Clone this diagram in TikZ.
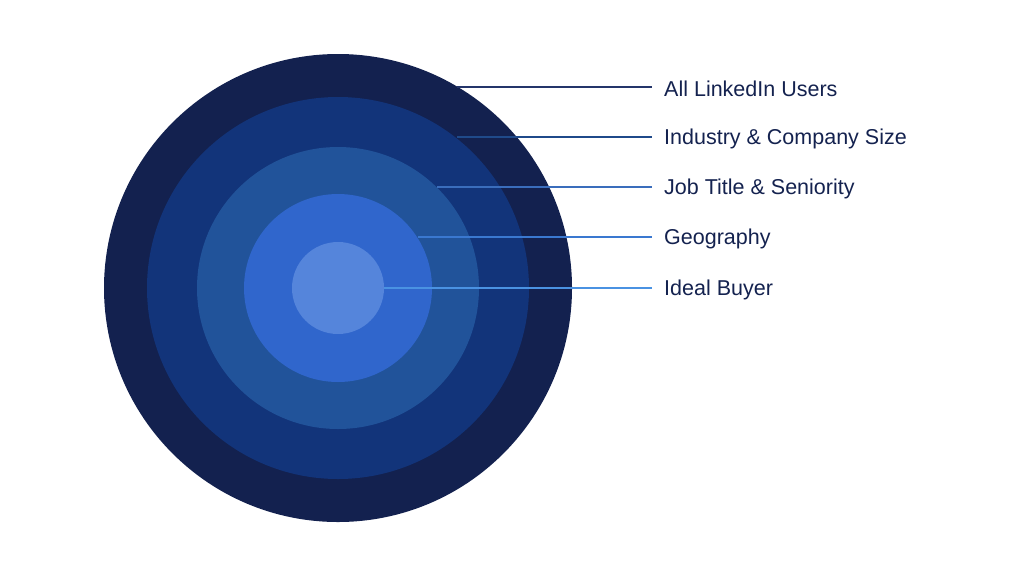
\documentclass[tikz,border=0pt]{standalone}
\usepackage{fontspec}
\setmainfont{Liberation Sans}
\definecolor{cA}{HTML}{13214F}
\definecolor{cB}{HTML}{12347A}
\definecolor{cC}{HTML}{21539A}
\definecolor{cD}{HTML}{3066CC}
\definecolor{cE}{HTML}{5585DB}
\definecolor{lA}{HTML}{24356A}
\definecolor{lB}{HTML}{1F4A8A}
\definecolor{lC}{HTML}{3A6DBC}
\definecolor{lD}{HTML}{3A78D0}
\definecolor{lE}{HTML}{4A92E2}
\definecolor{txt}{HTML}{14224F}
\begin{document}
\begin{tikzpicture}[x=1pt,y=-1pt,
  lab/.style={anchor=west,text=txt,font=\fontsize{21.5}{24}\selectfont,inner sep=0pt},
  lead/.style={line width=1.6pt}]
\useasboundingbox (0,0) rectangle (1024,576);
\fill[cA] (338,288) circle (234);
\fill[cB] (338,288) circle (191);
\fill[cC] (338,288) circle (141);
\fill[cD] (338,288) circle (94);
\fill[cE] (338,288) circle (46);
\coordinate (s1) at (457,87);
\coordinate (s2) at (457,137);
\coordinate (s3) at (437,187);
\coordinate (s4) at (418,237);
\coordinate (s5) at (384,288);
\coordinate (e1) at (652,87);
\coordinate (e2) at (652,137);
\coordinate (e3) at (652,187);
\coordinate (e4) at (652,237);
\coordinate (e5) at (652,288);
\node[lab] (t1) at (664,88.5) {All LinkedIn Users};
\node[lab] (t2) at (664,138.5) {Industry \& Company Size};
\node[lab] (t3) at (664,188.5) {Job Title \& Seniority};
\node[lab] (t4) at (664,238.5) {Geography};
\node[lab] (t5) at (664,289.5) {Ideal Buyer};
\draw[lead,lA] (s1) -- (e1);
\draw[lead,lB] (s2) -- (e2);
\draw[lead,lC] (s3) -- (e3);
\draw[lead,lD] (s4) -- (e4);
\draw[lead,lE] (s5) -- (e5);
\end{tikzpicture}
\end{document}
